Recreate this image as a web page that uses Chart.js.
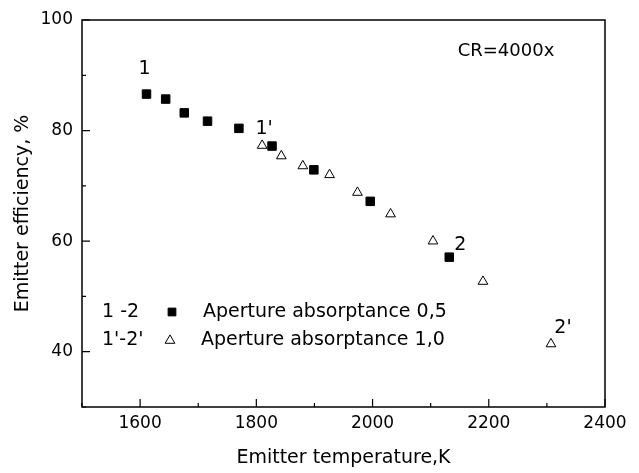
<!DOCTYPE html>
<html>
<head>
<meta charset="utf-8">
<script src="https://cdn.jsdelivr.net/npm/chart.js@4.4.1/dist/chart.umd.min.js"></script>
<style>
  html, body { margin: 0; padding: 0; background: #fff; }
</style>
</head>
<body>
<canvas id="chart" width="639" height="473"></canvas>
<script>
// Data
const squareTemps = [1611, 1644, 1676, 1716, 1770, 1827, 1899, 1996, 2132];
const squareEff = [86.6, 85.7, 83.2, 81.7, 80.4, 77.2, 72.9, 67.2, 57.1];
const triangleTemps = [1810, 1843, 1880, 1926, 1974, 2031, 2104, 2190, 2307];
const triangleEff = [77.3, 75.4, 73.6, 72.0, 68.8, 64.9, 60.0, 52.7, 41.4];

const seriesNames = ['Aperture absorptance 0,5', 'Aperture absorptance 1,0'];
const seriesTags = ['1 -2', "1'-2'"];
const noteText = 'CR=4000x';

const FONT = '"DejaVu Sans", "Liberation Sans", Arial, sans-serif';

function toPoints(xs, ys) {
    return xs.map((x, i) => ({ x: x, y: ys[i] }));
}

// End-point labels: which dataset, which point, text, pixel offset
const endLabels = [
    { ds: 0, idx: 0, text: '1', dx: -2, dy: -25 },
    { ds: 1, idx: 0, text: "1'", dx: 2, dy: -16 },
    { ds: 0, idx: squareTemps.length - 1, text: '2', dx: 11, dy: -12 },
    { ds: 1, idx: triangleTemps.length - 1, text: "2'", dx: 12, dy: -16 }
];

// Frame, inward ticks, labels, legend
const decorPlugin = {
    id: 'decor',
    afterDatasetsDraw(chart) {
        const ctx = chart.ctx;
        const area = chart.chartArea;
        const xs = chart.scales.x;
        const ys = chart.scales.y;

        ctx.save();
        ctx.strokeStyle = '#000';
        ctx.lineWidth = 1.5;
        ctx.strokeRect(area.left, area.top, area.right - area.left, area.bottom - area.top);

        ctx.lineWidth = 1.2;
        ctx.beginPath();
        xs.ticks.forEach(t => {
            const px = xs.getPixelForValue(t.value);
            const len = t.label !== '' ? 8 : 4;
            ctx.moveTo(px, area.bottom);
            ctx.lineTo(px, area.bottom - len);
        });
        ys.ticks.forEach(t => {
            const py = ys.getPixelForValue(t.value);
            const len = t.label !== '' ? 8 : 4;
            ctx.moveTo(area.left, py);
            ctx.lineTo(area.left + len, py);
        });
        ctx.stroke();

        ctx.fillStyle = '#000';
        ctx.font = '19px ' + FONT;
        ctx.textBaseline = 'middle';
        ctx.textAlign = 'center';
        endLabels.forEach(l => {
            const el = chart.getDatasetMeta(l.ds).data[l.idx];
            ctx.fillText(l.text, el.x + l.dx, el.y + l.dy);
        });

        ctx.font = '18px ' + FONT;
        ctx.fillText(noteText, area.right - 99, area.top + 31);

        // legend
        ctx.font = '19px ' + FONT;
        ctx.textAlign = 'left';
        const styles = ['rect', 'triangle'];
        const fills = ['#000', '#fff'];
        const rowY = [area.top + 292, area.top + 320];
        for (let i = 0; i < 2; i++) {
            ctx.fillStyle = '#000';
            ctx.fillText(seriesTags[i], area.left + 20, rowY[i]);
            ctx.fillText(seriesNames[i], area.left + (i === 0 ? 121 : 119), rowY[i]);
            ctx.fillStyle = fills[i];
            ctx.strokeStyle = '#000';
            ctx.lineWidth = 1;
            Chart.helpers.drawPoint(ctx, { pointStyle: styles[i], radius: i === 0 ? 5.5 : 5.6, rotation: 0, borderWidth: 1 },
                area.left + (i === 0 ? 90 : 88), rowY[i] + (i === 0 ? 0 : 0.5));
        }
        ctx.restore();
    }
};

new Chart(document.getElementById('chart'), {
    type: 'scatter',
    data: {
        datasets: [
            {
                label: seriesNames[0],
                data: toPoints(squareTemps, squareEff),
                pointStyle: 'rect',
                pointRadius: 6,
                backgroundColor: '#000',
                borderColor: '#000',
                borderWidth: 1
            },
            {
                label: seriesNames[1],
                data: toPoints(triangleTemps, triangleEff),
                pointStyle: 'triangle',
                pointRadius: 5.6,
                backgroundColor: '#fff',
                borderColor: '#000',
                borderWidth: 1
            }
        ]
    },
    options: {
        responsive: false,
        animation: false,
        layout: { padding: { top: 20, right: 34, left: 0, bottom: 0 } },
        plugins: {
            legend: { display: false },
            tooltip: { enabled: false }
        },
        scales: {
            x: {
                type: 'linear',
                min: 1500,
                max: 2400,
                afterFit: s => { s.height = 66; },
                grid: { display: false, drawTicks: false },
                border: { display: false },
                ticks: {
                    stepSize: 100,
                    autoSkip: false,
                    maxRotation: 0,
                    padding: 6,
                    color: '#000',
                    font: { family: FONT, size: 17 },
                    callback: v => (v % 200 === 0 ? v : '')
                },
                title: {
                    display: true,
                    text: 'Emitter temperature,K',
                    color: '#000',
                    font: { family: FONT, size: 19 },
                    padding: { top: 0, bottom: 4 }
                }
            },
            y: {
                min: 30,
                max: 100,
                afterFit: s => { s.width = 82; },
                grid: { display: false, drawTicks: false },
                border: { display: false },
                ticks: {
                    stepSize: 10,
                    autoSkip: false,
                    padding: 9,
                    color: '#000',
                    font: { family: FONT, size: 17 },
                    callback: v => (v % 20 === 0 ? v : '')
                },
                title: {
                    display: true,
                    text: 'Emitter efficiency, %',
                    color: '#000',
                    font: { family: FONT, size: 19 },
                    padding: { top: 12, bottom: 0 }
                }
            }
        }
    },
    plugins: [decorPlugin]
});
</script>
</body>
</html>
